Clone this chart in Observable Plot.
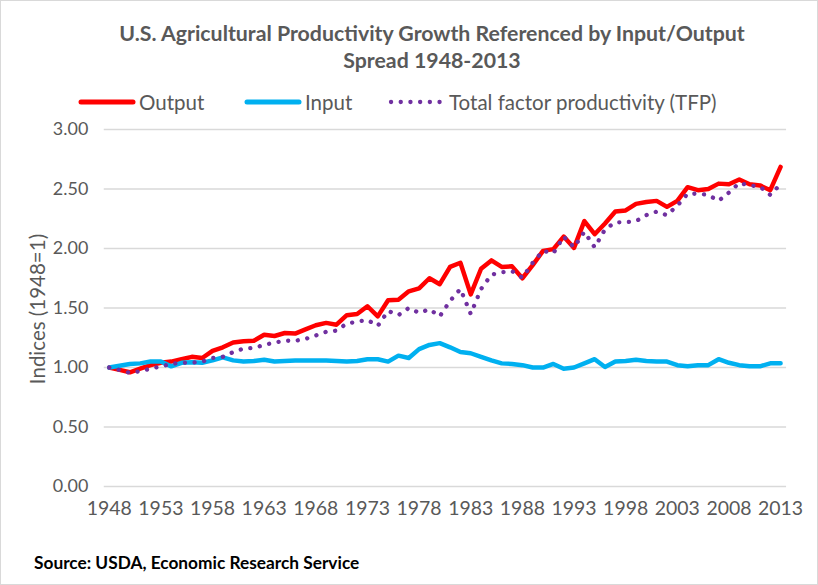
<!DOCTYPE html>
<html>
<head>
<meta charset="utf-8">
<script src="https://cdn.jsdelivr.net/npm/d3@7"></script>
<script src="https://cdn.jsdelivr.net/npm/@observablehq/plot@0.6"></script>
<style>
  html, body { margin: 0; padding: 0; background: #fff; }
  #wrap { position: relative; width: 818px; height: 585px; box-sizing: border-box; border: 1px solid #d9d9d9; background: #fff; overflow: hidden; font-family: Lato, "Open Sans", sans-serif; color: #595959; }
  .title { position: absolute; left: 22px; width: 818px; text-align: center; font-weight: bold; font-size: 21.3px; color: #595959; white-space: nowrap; }
  #legend { position: absolute; top: 88px; left: 0; width: 818px; height: 26px; }
  .lg { position: absolute; top: 0; display: flex; align-items: center; height: 26px; font-size: 20.5px; color: #595959; white-space: nowrap; }
  .lg svg { margin-right: 3px; }
  #chart { position: absolute; left: 0; top: 110px; }
  #ytitle { position: absolute; left: 36px; top: 308px; transform: translate(-50%, -50%) rotate(-90deg); font-size: 20.5px; white-space: nowrap; color: #595959; }
  #source { position: absolute; left: 33px; top: 551px; font-weight: bold; font-size: 17.3px; color: #000; white-space: nowrap; }
</style>
</head>
<body>
<div id="wrap">
  <div class="title" style="top:19px;">U.S. Agricultural Productivity Growth Referenced by Input/Output</div>
  <div class="title" style="top:46px;">Spread 1948-2013</div>
  <div id="legend"></div>
  <div id="chart"></div>
  <div id="ytitle">Indices (1948=1)</div>
  <div id="source">Source: USDA, Economic Research Service</div>
</div>
<script>
const years = [1948,1949,1950,1951,1952,1953,1954,1955,1956,1957,
  1958,1959,1960,1961,1962,1963,1964,1965,1966,1967,
  1968,1969,1970,1971,1972,1973,1974,1975,1976,1977,
  1978,1979,1980,1981,1982,1983,1984,1985,1986,1987,
  1988,1989,1990,1991,1992,1993,1994,1995,1996,1997,
  1998,1999,2000,2001,2002,2003,2004,2005,2006,2007,
  2008,2009,2010,2011,2012,2013];

const output = [1.00,0.98,0.96,0.99,1.02,1.04,1.05,1.07,1.09,1.08,
  1.14,1.17,1.21,1.22,1.225,1.275,1.265,1.29,1.285,1.32,
  1.355,1.375,1.36,1.44,1.45,1.515,1.43,1.565,1.57,1.64,
  1.665,1.75,1.70,1.845,1.88,1.615,1.83,1.90,1.845,1.85,
  1.75,1.86,1.98,1.995,2.10,2.005,2.23,2.12,2.21,2.31,
  2.32,2.375,2.39,2.40,2.35,2.40,2.515,2.49,2.50,2.545,
  2.54,2.58,2.54,2.53,2.49,2.685];

const input = [1.00,1.015,1.03,1.035,1.05,1.05,1.01,1.04,1.045,1.04,
  1.06,1.085,1.06,1.05,1.055,1.065,1.05,1.055,1.06,1.06,
  1.06,1.06,1.055,1.05,1.055,1.07,1.07,1.05,1.10,1.08,
  1.155,1.19,1.205,1.17,1.13,1.12,1.09,1.06,1.035,1.03,
  1.02,1.00,1.00,1.03,0.99,1.00,1.035,1.07,1.005,1.05,
  1.055,1.065,1.055,1.05,1.05,1.02,1.01,1.02,1.02,1.07,
  1.04,1.02,1.01,1.01,1.035,1.035];

const tfp = [1.00,0.98,0.955,0.97,0.99,1.01,1.03,1.04,1.04,1.05,
  1.08,1.09,1.13,1.16,1.165,1.19,1.21,1.225,1.225,1.24,
  1.27,1.30,1.31,1.37,1.385,1.40,1.35,1.475,1.44,1.50,
  1.46,1.49,1.43,1.56,1.66,1.45,1.66,1.78,1.80,1.81,
  1.755,1.88,1.98,1.96,2.10,2.01,2.14,2.01,2.16,2.22,
  2.22,2.23,2.28,2.31,2.28,2.36,2.46,2.46,2.45,2.40,
  2.47,2.55,2.53,2.52,2.45,2.54];

const xTicks = [1948,1953,1958,1963,1968,1973,1978,1983,1988,1993,1998,2003,2008,2013];
const yTicks = [0,0.5,1,1.5,2,2.5,3];

const seriesNames = ["Output", "Input", "Total factor productivity (TFP)"];
const seriesColors = ["#ff0000", "#00b0f0", "#7030a0"];

const data = years.map((yr, i) => ({year: yr, output: output[i], input: input[i], tfp: tfp[i]}));

const chart = Plot.plot({
  width: 818,
  height: 420,
  marginTop: 18,
  marginBottom: 44,
  marginLeft: 103,
  marginRight: 31,
  style: {fontFamily: "Lato, 'Open Sans', sans-serif", fontSize: "18px", color: "#595959", background: "transparent", overflow: "visible"},
  x: {domain: [1948, 2013], insetLeft: 5, insetRight: 6, label: null},
  y: {domain: [0, 3], label: null},
  marks: [
    Plot.ruleY(yTicks, {stroke: "#d9d9d9", strokeWidth: 1.5}),
    Plot.axisX(xTicks, {tickFormat: d => String(d), tickSize: 0, tickPadding: 15, fontSize: 19.5, label: null, fill: "#595959"}),
    Plot.axisY(yTicks, {tickFormat: d3.format(".2f"), tickSize: 0, tickPadding: 16, fontSize: 18, label: null, fill: "#595959"}),
    Plot.line(data, {x: "year", y: "output", stroke: seriesColors[0], strokeWidth: 4.5, strokeLinejoin: "round", strokeLinecap: "round"}),
    Plot.line(data, {x: "year", y: "input", stroke: seriesColors[1], strokeWidth: 4.5, strokeLinejoin: "round", strokeLinecap: "round"}),
    Plot.line(data, {x: "year", y: "tfp", stroke: seriesColors[2], strokeWidth: 4.3, strokeDasharray: "0.1 9.6", strokeLinecap: "round", strokeLinejoin: "round"})
  ]
});
document.getElementById("chart").appendChild(chart);

// legend
const legend = document.getElementById("legend");
const lgPos = [77, 243, 387];
seriesNames.forEach((name, i) => {
  const item = document.createElement("div");
  item.className = "lg";
  item.style.left = lgPos[i] + "px";
  const dotted = i === 2;
  item.innerHTML = `<svg width="58" height="10"><line x1="3" y1="5" x2="55" y2="5" stroke="${seriesColors[i]}" stroke-width="${dotted ? 4.3 : 5}" stroke-linecap="round" ${dotted ? 'stroke-dasharray="0.1 9.6"' : ''}/></svg><span>${name}</span>`;
  legend.appendChild(item);
});
</script>
</body>
</html>
